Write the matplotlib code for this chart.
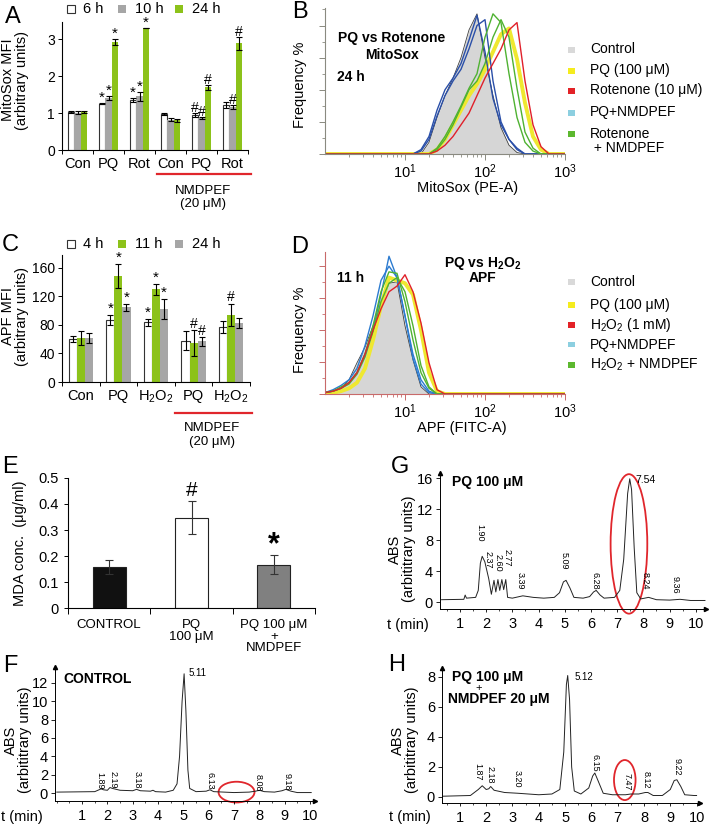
#!/usr/bin/env python3
"""Multi-panel figure: MitoSox / APF bars, flow histograms, MDA bars, HPLC traces."""

import matplotlib
matplotlib.use("Agg")
import matplotlib.pyplot as plt
import numpy as np
from matplotlib.patches import Ellipse, Rectangle
from matplotlib.ticker import LogLocator, NullFormatter, MultipleLocator

plt.rcParams["font.family"] = ["Liberation Sans", "DejaVu Sans"]
plt.rcParams["mathtext.default"] = "regular"

W, H = 709, 825
GREEN = "#8cc21a"
GRAY = "#a6a6a6"
RED = "#e0262c"

# ---- panel A: MitoSox MFI ----
A_GROUPS = ["Con", "PQ", "Rot", "Con", "PQ", "Rot"]
A_SERIES = ["6 h", "10 h", "24 h"]
A_6H = [1.02, 1.25, 1.35, 0.97, 0.95, 1.22]
A_6H_ERR = [0.03, 0.02, 0.06, 0.02, 0.05, 0.09]
A_10H = [1.01, 1.41, 1.45, 0.82, 0.87, 1.16]
A_10H_ERR = [0.04, 0.05, 0.12, 0.04, 0.02, 0.05]
A_24H = [1.02, 2.92, 3.30, 0.81, 1.69, 2.88]
A_24H_ERR = [0.03, 0.07, 0.01, 0.04, 0.07, 0.17]
A_MARKS = [(1, 0, "*"), (1, 1, "*"), (1, 2, "*"), (2, 0, "*"), (2, 1, "*"), (2, 2, "*"),
           (4, 0, "#"), (4, 1, "#"), (4, 2, "#"), (5, 1, "#"), (5, 2, "#")]

# ---- panel C: APF MFI ----
C_GROUPS = ["Con", "PQ", "H$_2$O$_2$", "PQ", "H$_2$O$_2$"]
C_SERIES = ["4 h", "11 h", "24 h"]
C_4H = [60, 87, 84, 58, 77]
C_4H_ERR = [4, 7, 5, 13, 9]
C_11H = [62, 149, 130, 55, 94]
C_11H_ERR = [10, 17, 8, 18, 16]
C_24H = [61, 105, 102, 57, 83]
C_24H_ERR = [7, 5, 14, 6, 7]
C_MARKS = [(1, 0, "*"), (1, 1, "*"), (1, 2, "*"), (2, 0, "*"), (2, 1, "*"), (2, 2, "*"),
           (3, 1, "#"), (3, 2, "#"), (4, 1, "#")]

# ---- panel B: MitoSox histograms (log10 of PE-A, % of max) ----
B_LOGX = [0.0, 1.0, 1.1, 1.2, 1.3, 1.4, 1.5, 1.6, 1.7, 1.8, 1.9, 2.0, 2.1,
          2.2, 2.3, 2.4, 2.5, 2.6, 2.7, 2.8, 2.9, 3.0]
B_CONTROL = [0, 0, 0, 0, 8, 25, 40, 52, 66, 85, 96, 66, 40, 18, 6, 1, 0, 0, 0, 0, 0, 0]
B_BLUE1 = [0, 0, 0, 3, 12, 30, 44, 52, 62, 78, 95, 70, 38, 20, 10, 4, 0, 0, 0, 0, 0, 0]
B_BLUE2 = [0, 0, 0, 2, 10, 26, 40, 50, 58, 72, 88, 92, 50, 22, 10, 3, 0, 0, 0, 0, 0, 0]
B_GREEN1 = [0, 0, 0, 0, 0, 4, 12, 22, 33, 45, 55, 80, 96, 90, 55, 25, 8, 2, 0, 0, 0, 0]
B_GREEN2 = [0, 0, 0, 0, 0, 3, 10, 20, 32, 44, 50, 62, 80, 92, 80, 45, 15, 4, 0, 0, 0, 0]
B_YELLOW = [0, 0, 0, 0, 0, 3, 10, 20, 30, 40, 48, 58, 70, 82, 86, 65, 35, 12, 3, 0, 0, 0]
B_RED = [0, 0, 0, 0, 0, 2, 6, 12, 20, 28, 40, 52, 62, 72, 85, 90, 50, 20, 5, 0, 0, 0]
B_LEGEND = ["Control", "PQ (100 \u03bcM)", "Rotenone (10 \u03bcM)", "PQ+NMDPEF",
            "Rotenone\n + NMDPEF"]

# ---- panel D: APF histograms ----
D_LOGX = [0.0, 0.1, 0.2, 0.3, 0.4, 0.5, 0.6, 0.7, 0.8, 0.9, 1.0, 1.1, 1.2, 1.3, 1.4, 1.5, 3.0]
D_CONTROL = [1, 2, 4, 10, 22, 33, 48, 62, 78, 79, 48, 24, 5, 0, 0, 0, 0]
D_BLUE1 = [1, 2, 4, 8, 15, 28, 45, 70, 97, 82, 55, 25, 7, 1, 0, 0, 0]
D_BLUE2 = [1, 3, 6, 10, 18, 34, 55, 80, 90, 82, 55, 28, 10, 2, 0, 0, 0]
D_GREEN1 = [1, 2, 5, 8, 15, 28, 48, 72, 86, 85, 65, 38, 15, 4, 0, 0, 0]
D_GREEN2 = [1, 2, 4, 7, 14, 26, 44, 65, 78, 82, 72, 48, 20, 5, 0, 0, 0]
D_YELLOW = [0, 1, 2, 4, 8, 18, 38, 62, 82, 80, 78, 70, 45, 15, 2, 0, 0]
D_RED = [1, 2, 4, 8, 15, 28, 45, 60, 72, 76, 84, 72, 50, 22, 3, 0, 0]
D_LEGEND = ["Control", "PQ (100 \u03bcM)", "H$_2$O$_2$ (1 mM)", "PQ+NMDPEF",
            "H$_2$O$_2$ + NMDPEF"]

LEGEND_COLORS = ["#d9d9d9", "#f5ec1e", "#e32227", "#8ccfe0", "#5cb82f"]

# ---- panel E: MDA ----
E_LABELS = ["CONTROL", "PQ\n100 \u03bcM", "PQ 100 \u03bcM\n+\nNMDPEF"]
E_VALUES = [0.157, 0.348, 0.167]
E_ERR = [0.028, 0.062, 0.038]

# ---- panels F, G, H: HPLC traces (t in min, ABS) ----
F_T = [0.0, 1.5, 1.75, 1.85, 2.0, 2.1, 2.2, 2.5, 3.0, 3.15, 3.3, 3.7, 3.8, 3.9, 4.3,
       4.6, 4.75, 4.85, 4.95, 5.03, 5.1, 5.18, 5.25, 5.5, 5.9, 6.05, 6.2, 7.0, 7.6,
       7.85, 8.0, 8.2, 8.6, 8.9, 9.05, 9.25, 9.5, 10.05]
F_ABS = [0.1, 0.15, 0.45, 0.35, 0.3, 0.6, 0.5, 0.3, 0.25, 0.4, 0.25, 0.2, 0.3, 0.15, 0.1,
         0.3, 1.0, 4.0, 10.0, 13.0, 9.0, 2.5, 0.5, 0.15, 0.2, 0.35, 0.15, 0.05, 0.1,
         0.2, 0.3, 0.15, 0.1, 0.25, 0.4, 0.2, 0.05, 0.05]
F_PEAKS = [("1.89", 1.71, 1.3), ("2.19", 2.23, 1.5), ("3.18", 3.17, 1.4),
           ("6.13", 6.06, 1.3), ("8.08", 7.96, 1.1), ("9.18", 9.1, 1.2)]

G_T = [0.3, 1.15, 1.2, 1.25, 1.6, 1.7, 1.78, 1.85, 1.95, 2.1, 2.2, 2.3, 2.37, 2.45,
       2.52, 2.6, 2.67, 2.75, 2.82, 3.0, 3.4, 3.8, 4.2, 4.6, 4.8, 4.95, 5.05, 5.2,
       5.35, 5.7, 5.95, 6.1, 6.2, 6.35, 6.5, 6.9, 7.1, 7.25, 7.4, 7.48, 7.55, 7.65,
       7.75, 7.9, 8.2, 8.5, 9.0, 9.4, 9.8, 10.35]
G_ABS = [0.3, 0.35, 0.9, 0.5, 0.6, 1.5, 5.0, 5.9, 5.2, 3.0, 1.0, 2.8, 1.3, 2.9,
         1.5, 2.9, 1.6, 2.9, 0.6, 0.5, 0.8, 0.6, 0.5, 0.6, 1.2, 2.6, 2.8, 1.8,
         0.6, 0.5, 0.7, 1.3, 1.5, 0.9, 0.5, 0.6, 1.5, 5.5, 14.0, 15.9, 14.5, 7.0,
         1.2, 0.4, 0.6, 0.3, 0.25, 0.35, 0.2, 0.2]
G_PEAKS = [("1.90", 1.76, 8.9), ("2.37", 2.07, 5.4), ("2.60", 2.45, 5.0),
           ("2.77", 2.8, 5.7), ("3.39", 3.29, 2.8), ("5.09", 4.97, 5.3),
           ("6.28", 6.15, 2.8), ("8.24", 8.06, 2.7), ("9.36", 9.2, 2.2)]

H_T = [0.3, 1.4, 1.7, 1.85, 2.0, 2.1, 2.17, 2.3, 2.7, 3.2, 3.6, 4.0, 4.5, 4.8, 4.95,
       5.05, 5.1, 5.17, 5.25, 5.35, 5.6, 5.9, 6.05, 6.13, 6.25, 6.45, 6.8, 7.3, 7.5,
       7.8, 8.05, 8.15, 8.35, 8.7, 9.0, 9.15, 9.25, 9.4, 9.55, 9.9, 10.0]
H_ABS = [0.05, 0.1, 0.5, 0.75, 0.5, 0.55, 0.7, 0.45, 0.3, 0.25, 0.2, 0.15, 0.2, 0.5, 3.0,
         7.5, 8.1, 6.5, 2.0, 0.4, 0.2, 0.6, 1.4, 1.6, 1.1, 0.25, 0.15, 0.15, 0.2,
         0.2, 0.3, 0.3, 0.1, 0.1, 0.5, 1.1, 1.15, 0.7, 0.15, 0.1, 0.1]
H_PEAKS = [("1.87", 1.68, 1.67), ("2.18", 2.14, 1.47), ("3.20", 3.17, 1.2),
           ("6.15", 6.13, 2.3), ("7.47", 7.35, 1.0), ("8.12", 8.1, 1.13),
           ("9.22", 9.25, 2.0)]

fig = plt.figure(figsize=(W / 100, H / 100), dpi=100)


def fbox(x0, y0, x1, y1):
    # pixel box (top-left origin) -> figure fraction rect
    return [x0 / W, 1 - y1 / H, (x1 - x0) / W, (y1 - y0) / H]


def ftext(x, y, s, **kw):
    fig.text(x / W, 1 - y / H, s, **kw)


def key_square(x, y, w, h, color, edge="none"):
    fig.add_artist(Rectangle((x / W, 1 - (y + h / 2) / H), w / W, h / H,
                             transform=fig.transFigure, facecolor=color,
                             edgecolor=edge, lw=0.8))


def bar_panel(rect, groups, series, errs, colors, edges, ylim, yticks, marks, pad):
    ax = fig.add_axes(rect)
    x = np.arange(len(groups))
    width = 0.215
    for i, (vals, err, c, ec) in enumerate(zip(series, errs, colors, edges)):
        off = (i - 1) * width
        ax.bar(x + off, vals, width, color=c, edgecolor=ec, linewidth=0.8,
               yerr=err, capsize=2, error_kw=dict(elinewidth=0.8, capthick=0.8, ecolor="k"))
    for g, s, sym in marks:
        top = series[s][g] + errs[s][g] + pad
        ax.text(g + (s - 1) * width, top, sym, ha="center", va="baseline",
                fontsize=10 if sym == "#" else 11)
    ax.set_xlim(-0.5, len(groups) - 0.5)
    ax.set_ylim(*ylim)
    ax.set_yticks(yticks)
    ax.set_xticks(x)
    ax.set_xticklabels(groups)
    ax.set_xticks(np.arange(len(groups) + 1) - 0.5, minor=True)
    ax.tick_params(axis="x", which="major", length=0, pad=5, labelsize=10.5)
    ax.tick_params(axis="x", which="minor", length=3, width=0.7)
    ax.tick_params(axis="y", length=3, width=0.7, labelsize=10, pad=2)
    for sp in ("top", "right"):
        ax.spines[sp].set_visible(False)
    return ax


def nmdpef_bracket(ax, x0, x1, y_line, y_t1, y_t2, xc):
    tr = ax.get_xaxis_transform()
    ax.plot([x0, x1], [y_line, y_line], color=RED, lw=1.6, transform=tr, clip_on=False)
    ax.text(xc, y_t1, "NMDPEF", transform=tr, ha="center", va="center", fontsize=9.5)
    ax.text(xc, y_t2, "(20 \u03bcM)", transform=tr, ha="center", va="center", fontsize=9.5)


# ---------------- A ----------------
axA = bar_panel(fbox(62, 22, 248, 150), A_GROUPS, [A_6H, A_10H, A_24H],
                [A_6H_ERR, A_10H_ERR, A_24H_ERR], ["white", GRAY, GREEN],
                ["#333333", "none", "none"], (0, 3.46), [0, 1, 2, 3], A_MARKS, 0.03)
nmdpef_bracket(axA, 2.55, 5.6, -0.1875, -0.32, -0.425, 4.05)
ftext(15, 80, "MitoSox MFI\n(arbitrary units)", rotation=90, ha="center", va="center",
      fontsize=10.5, linespacing=1.05)
for (sx, tx, c, e), lab in zip([(67, 83, "white", "#333"), (118, 135, GRAY, "none"),
                                (175, 192, GREEN, "none")], A_SERIES):
    key_square(sx, 9, 8, 8, c, e)
    ftext(tx, 9, lab, ha="left", va="center", fontsize=10.5)

# ---------------- C ----------------
axC = bar_panel(fbox(62, 255, 250, 382), C_GROUPS, [C_4H, C_11H, C_24H],
                [C_4H_ERR, C_11H_ERR, C_24H_ERR], ["white", GREEN, GRAY],
                ["#333333", "none", "none"], (0, 178), [0, 40, 80, 120, 160], C_MARKS, 3)
nmdpef_bracket(axC, 2.5, 4.55, -0.244, -0.36, -0.475, 3.49)
ftext(15, 316, "APF MFI\n(arbitrary units)", rotation=90, ha="center", va="center",
      fontsize=10.5, linespacing=1.05)
for (sx, tx, c, e), lab in zip([(67, 83, "white", "#333"), (118, 135, GREEN, "none"),
                                (175, 192, GRAY, "none")], C_SERIES):
    key_square(sx, 244, 8, 8, c, e)
    ftext(tx, 244, lab, ha="left", va="center", fontsize=10.5)


# ---------------- B / D histograms ----------------
def flow_panel(rect, xlog, control, curves, axis_color, yticks):
    ax = fig.add_axes(rect)
    x = 10 ** np.array(xlog)
    ax.fill_between(x, control, color="#d6d6d6", lw=0)
    ax.plot(x, control, color="0.25", lw=0.6)
    for vals, c, lw in curves:
        ax.plot(x, vals, color=c, lw=lw, solid_joinstyle="round")
    ax.set_xscale("log")
    ax.set_xlim(1, 1000)
    ax.set_ylim(0, 100)
    ax.set_xticks([10, 100, 1000])
    ax.set_xticklabels(["$10^1$", "$10^2$", "$10^3$"])
    ax.xaxis.set_minor_locator(LogLocator(base=10, subs=np.arange(2, 10)))
    ax.xaxis.set_minor_formatter(NullFormatter())
    ax.set_yticks(yticks)
    ax.set_yticklabels([])
    ax.yaxis.set_minor_locator(MultipleLocator(yticks[1] / 2))
    ax.tick_params(axis="both", which="major", length=4, width=0.7, color=axis_color,
                   labelsize=10.5, pad=2)
    ax.tick_params(axis="both", which="minor", length=2, width=0.6, color=axis_color)
    for sp in ("top", "right"):
        ax.spines[sp].set_visible(False)
    for sp in ("left", "bottom"):
        ax.spines[sp].set_color(axis_color)
        ax.spines[sp].set_linewidth(0.8)
    return ax


BLUE_B = "#2a4fa8"
BLUE_D = "#2c7bd0"
LGREEN = "#4fb232"
YELLOW = "#efe830"
CRED = "#e0202a"

axB = flow_panel(fbox(325, 8, 565, 154), B_LOGX, B_CONTROL,
                 [(B_YELLOW, YELLOW, 2.8), (B_BLUE1, BLUE_B, 1.0), (B_BLUE2, BLUE_B, 1.0),
                  (B_GREEN1, LGREEN, 1.0), (B_GREEN2, LGREEN, 1.0), (B_RED, CRED, 1.0)],
                 "#8a8a80", [0, 22, 44, 66, 88])
ftext(300, 85, "Frequency %", rotation=90, ha="center", va="center", fontsize=10.5)
ftext(468, 188, "MitoSox (PE-A)", ha="center", va="center", fontsize=10.5)
ftext(392, 38, "PQ vs Rotenone", ha="center", va="center", fontsize=10, fontweight="bold")
ftext(392, 55, "MitoSox", ha="center", va="center", fontsize=10, fontweight="bold")
ftext(337, 77, "24 h", ha="left", va="center", fontsize=10, fontweight="bold")
for y, lab, c in zip([50, 71, 91, 113, 134], B_LEGEND, LEGEND_COLORS):
    key_square(568, y, 7, 5, c)
    ftext(590, y - 1 if "\n" not in lab else y + 7, lab, ha="left", va="center",
          fontsize=10, linespacing=1.0)

axD = flow_panel(fbox(325, 252, 565, 394), D_LOGX, D_CONTROL,
                 [(D_YELLOW, YELLOW, 2.8), (D_BLUE1, BLUE_D, 1.0), (D_BLUE2, BLUE_D, 1.0),
                  (D_GREEN1, LGREEN, 1.0), (D_GREEN2, LGREEN, 1.0), (D_RED, CRED, 1.0)],
                 "#c86a6a", [0, 22.5, 45, 67.5, 90])
ftext(300, 330, "Frequency %", rotation=90, ha="center", va="center", fontsize=10.5)
ftext(462, 428, "APF (FITC-A)", ha="center", va="center", fontsize=10.5)
ftext(483, 263, "PQ vs H$_2$O$_2$", ha="center", va="center", fontsize=10, fontweight="bold")
ftext(483, 278, "APF", ha="center", va="center", fontsize=10, fontweight="bold")
ftext(337, 278, "11 h", ha="left", va="center", fontsize=10, fontweight="bold")
for y, lab, c in zip([282, 305, 325, 345, 365], D_LEGEND, LEGEND_COLORS):
    key_square(568, y, 7, 5, c)
    ftext(590, y, lab, ha="left", va="center", fontsize=10)

# ---------------- E ----------------
axE = fig.add_axes(fbox(68, 478, 315, 608))
ex = np.arange(len(E_VALUES)) + 0.5
axE.bar(ex, E_VALUES, 0.4, color=["#111111", "white", "#808080"], edgecolor="#222222",
        linewidth=0.8, yerr=E_ERR, capsize=3,
        error_kw=dict(elinewidth=0.8, capthick=0.8, ecolor="#333333"))
axE.text(ex[1], E_VALUES[1] + E_ERR[1] + 0.02, "#", ha="center", va="baseline", fontsize=15)
axE.text(ex[2], E_VALUES[2] + E_ERR[2] + 0.005, "*", ha="center", va="baseline",
         fontsize=22, fontweight="bold")
axE.set_xlim(0, 3)
axE.set_ylim(0, 0.5)
axE.set_yticks([0, 0.1, 0.2, 0.3, 0.4, 0.5])
axE.set_yticklabels(["0", "0.1", "0.2", "0.3", "0.4", "0.5"])
axE.set_xticks([0, 1, 2, 3])
axE.set_xticklabels([])
axE.tick_params(axis="x", length=4, width=0.7)
axE.tick_params(axis="y", length=3, width=0.7, labelsize=10.5)
for sp in ("top", "right"):
    axE.spines[sp].set_visible(False)
tr = axE.get_xaxis_transform()
for xi, lab in zip(ex, E_LABELS):
    axE.text(xi, -0.085, lab, transform=tr, ha="center", va="top", fontsize=9.5,
             linespacing=0.95)
ftext(20, 543, "MDA conc.  (\u03bcg/ml)", rotation=90, ha="center", va="center",
      fontsize=10.5)


# ---------------- F, G, H chromatograms ----------------
def chrom_panel(rect, t, a, xlim, ylim, yticks, peaks, ell):
    ax = fig.add_axes(rect)
    ax.plot(t, a, color="#222222", lw=0.7)
    ax.set_xlim(*xlim)
    ax.set_ylim(*ylim)
    ax.set_yticks(yticks)
    ax.set_xticks(range(1, 11))
    ax.xaxis.set_minor_locator(MultipleLocator(0.5))
    ax.tick_params(axis="x", which="major", length=2.5, width=0.6, labelsize=10.5, pad=3)
    ax.tick_params(axis="x", which="minor", length=1.5, width=0.5)
    ax.tick_params(axis="y", length=3, width=0.6, labelsize=10.5, pad=2)
    for sp in ("top", "right"):
        ax.spines[sp].set_visible(False)
    for sp in ("left", "bottom"):
        ax.spines[sp].set_linewidth(0.7)
    ax.plot(1, 0, ">", color="k", ms=3, transform=ax.transAxes, clip_on=False)
    ax.plot(0, 1, "^", color="k", ms=3, transform=ax.transAxes, clip_on=False)
    for lab, px, py in peaks:
        ax.text(px, py, lab, rotation=-90, ha="center", va="center", fontsize=6.5)
    (cx, cy), ew, eh = ell
    ax.add_patch(Ellipse((cx, cy), ew, eh, fill=False, ec=RED, lw=1.3, clip_on=False))
    return ax


axF = chrom_panel(fbox(55, 667, 315, 801), F_T, F_ABS, (-0.07, 10.2), (-0.87, 13.74),
                  [0, 2, 4, 6, 8, 10, 12], F_PEAKS, ((7.1, 0.1), 1.42, 2.26))
axF.text(5.2, 13.1, "5.11", ha="left", va="center", fontsize=7)
axF.text(0.25, 12.4, "CONTROL", ha="left", va="center", fontsize=10, fontweight="bold")
ftext(22, 817, "t (min)", ha="center", va="center", fontsize=10.5)
ftext(18, 740, "ABS\n(arbititrary units)", rotation=90, ha="center", va="center",
      fontsize=10.5, linespacing=1.05)

axG = chrom_panel(fbox(440, 473, 706, 609), G_T, G_ABS, (0.24, 10.39), (-0.9, 16.65),
                  [0, 4, 8, 12, 16], G_PEAKS, ((7.45, 7.5), 1.4, 18))
axG.text(7.68, 15.7, "7.54", ha="left", va="center", fontsize=7.5)
axG.text(0.7, 15.5, "PQ 100 \u03bcM", ha="left", va="center", fontsize=10, fontweight="bold")
ftext(408, 625, "t (min)", ha="center", va="center", fontsize=10.5)
ftext(402, 549, "ABS\n(arbititrary units)", rotation=90, ha="center", va="center",
      fontsize=10.5, linespacing=1.05)

axH = chrom_panel(fbox(442, 668, 700, 803), H_T, H_ABS, (0.32, 10.13), (-0.4, 8.6),
                  [0, 2, 4, 6, 8], H_PEAKS, ((7.27, 1.13), 0.82, 2.67))
axH.text(5.37, 8.0, "5.12", ha="left", va="center", fontsize=7)
axH.text(0.7, 8.0, "PQ 100 \u03bcM", ha="left", va="center", fontsize=10, fontweight="bold")
axH.text(1.7, 7.3, "+", ha="center", va="center", fontsize=8)
axH.text(0.55, 6.5, "NMDPEF 20 \u03bcM", ha="left", va="center", fontsize=10,
         fontweight="bold")
ftext(410, 817, "t (min)", ha="center", va="center", fontsize=10.5)
ftext(405, 740, "ABS\n(arbititrary units)", rotation=90, ha="center", va="center",
      fontsize=10.5, linespacing=1.05)

# ---------------- panel letters ----------------
for lab, x, y in [("A", 13, 17), ("B", 300, 12), ("C", 10, 245), ("D", 300, 247),
                  ("E", 10, 467), ("G", 400, 467), ("F", 10, 666), ("H", 397, 665)]:
    ftext(x, y, lab, ha="center", va="center", fontsize=17)

fig.savefig("out.png", dpi=100)
